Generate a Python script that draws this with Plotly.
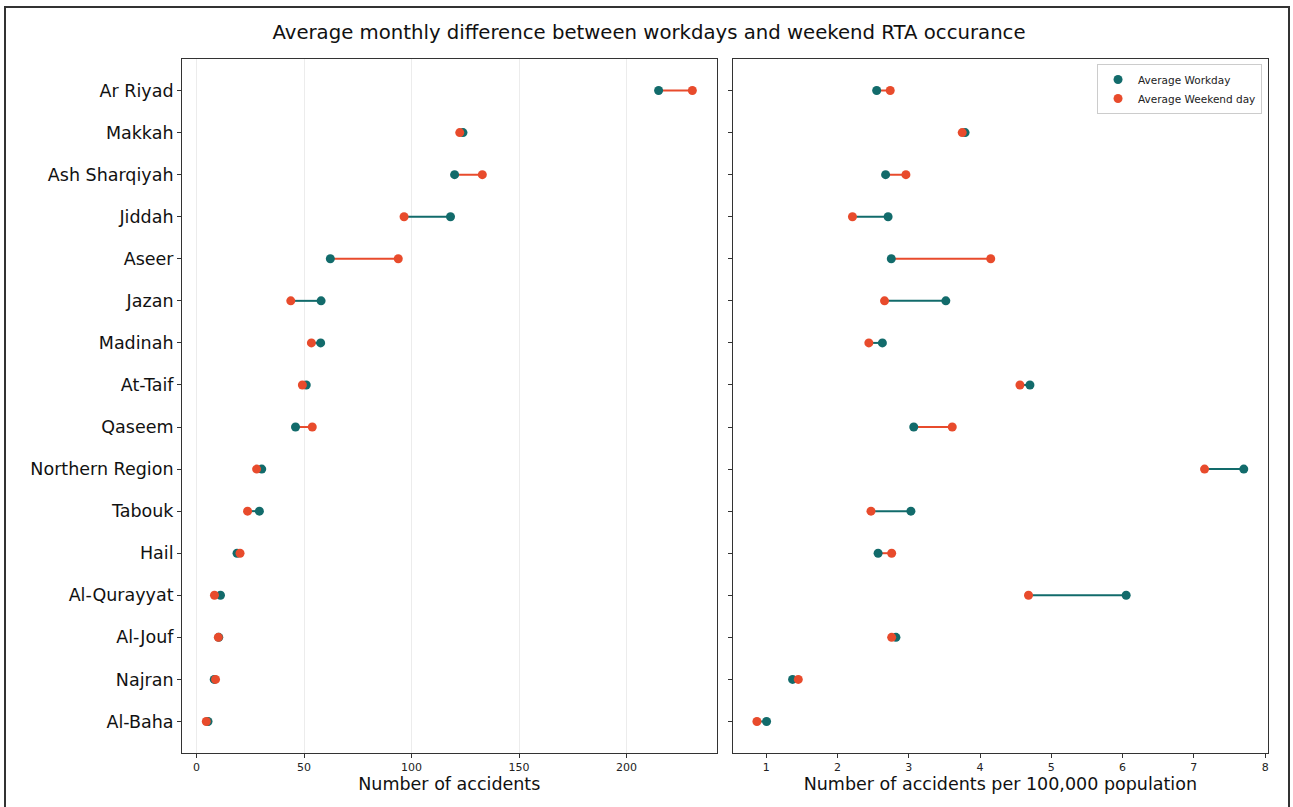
import plotly.graph_objects as go

regions = ["Ar Riyad", "Makkah", "Ash Sharqiyah", "Jiddah", "Aseer", "Jazan", "Madinah",
           "At-Taif", "Qaseem", "Northern Region", "Tabouk", "Hail", "Al-Qurayyat",
           "Al-Jouf", "Najran", "Al-Baha"]

workday_count = [214.9, 123.9, 120.0, 118.1, 62.2, 57.9, 57.7, 51.0, 46.0, 30.3, 29.2, 18.8, 11.1, 10.3, 8.2, 5.3]
weekend_count = [230.6, 122.4, 132.9, 96.5, 93.8, 43.8, 53.4, 49.2, 53.8, 27.9, 23.7, 20.2, 8.3, 10.1, 8.8, 4.5]

workday_rate = [2.55, 3.79, 2.675, 2.71, 2.755, 3.52, 2.63, 4.70, 3.07, 7.70, 3.03, 2.57, 6.05, 2.82, 1.37, 1.005]
weekend_rate = [2.74, 3.75, 2.96, 2.21, 4.15, 2.66, 2.44, 4.56, 3.61, 7.15, 2.47, 2.76, 4.68, 2.76, 1.45, 0.87]

TEAL = "#126b6b"
ORANGE = "#e84b2c"
FONT = "DejaVu Sans"

fig = go.Figure()


def add_panel(work, week, xa, ya, show_legend):
    # segment lines coloured by the larger value
    for color, cond in ((TEAL, lambda a, b: a > b), (ORANGE, lambda a, b: a <= b)):
        xs, ys = [], []
        for r, a, b in zip(regions, work, week):
            if cond(a, b):
                xs += [a, b, None]
                ys += [r, r, None]
        fig.add_trace(go.Scatter(x=xs, y=ys, mode="lines", line=dict(color=color, width=2),
                                 xaxis=xa, yaxis=ya, showlegend=False, hoverinfo="skip"))
    fig.add_trace(go.Scatter(x=work, y=regions, mode="markers", name="Average Workday",
                             marker=dict(color=TEAL, size=9), xaxis=xa, yaxis=ya,
                             showlegend=show_legend))
    fig.add_trace(go.Scatter(x=week, y=regions, mode="markers", name="Average Weekend day",
                             marker=dict(color=ORANGE, size=9), xaxis=xa, yaxis=ya,
                             showlegend=show_legend))


add_panel(workday_count, weekend_count, "x", "y", False)
add_panel(workday_rate, weekend_rate, "x2", "y2", True)

axis_common = dict(showline=True, linecolor="#333", linewidth=1, mirror=True,
                   ticks="outside", ticklen=4, tickcolor="#333", zeroline=False,
                   tickfont=dict(family=FONT, size=11, color="#222"))

fig.update_layout(
    width=1293, height=807,
    margin=dict(l=182, r=25, t=59, b=54),
    paper_bgcolor="white", plot_bgcolor="white",
    font=dict(family=FONT, color="#111"),
    title=dict(text="Average monthly difference between workdays and weekend RTA occurance",
               x=649 / 1293, xref="container", xanchor="center", y=1 - 32 / 807, yanchor="middle",
               font=dict(family=FONT, size=19.7, color="#111")),
    xaxis=dict(domain=[0, 0.4923], range=[-6.8, 241.9], tickvals=[0, 50, 100, 150, 200],
               showgrid=True, gridcolor="#ececec", gridwidth=1,
               title=dict(text="Number of accidents", font=dict(family=FONT, size=17.5, color="#111"),
                          standoff=4),
               **axis_common),
    xaxis2=dict(domain=[0.5071, 1], range=[0.53, 8.04], tickvals=[1, 2, 3, 4, 5, 6, 7, 8],
                showgrid=False,
                title=dict(text="Number of accidents per 100,000 population",
                           font=dict(family=FONT, size=17.5, color="#111"), standoff=4),
                **axis_common),
    yaxis=dict(type="category", categoryorder="array", categoryarray=regions,
               range=[15.75, -0.75], showgrid=False, anchor="x",
               **{**axis_common, "tickfont": dict(family=FONT, size=17.5, color="#111")}),
    yaxis2=dict(type="category", categoryorder="array", categoryarray=regions,
                range=[15.75, -0.75], showgrid=False, anchor="x2", showticklabels=False,
                **axis_common),
    legend=dict(x=0.9945, y=0.9928, xanchor="right", yanchor="top",
                bgcolor="white", bordercolor="#cccccc", borderwidth=1,
                font=dict(family=FONT, size=10.5, color="#222"),
                itemsizing="trace", tracegroupgap=0),
    showlegend=True,
)

# outer figure frame
fig.add_shape(type="rect", xref="paper", yref="paper",
              x0=(5 - 182) / 1086, x1=(1289 - 182) / 1086,
              y0=(753 - 815) / 694, y1=(753 - 7) / 694,
              line=dict(color="#333", width=2), fillcolor="rgba(0,0,0,0)", layer="above")

fig.write_html("out.html")
